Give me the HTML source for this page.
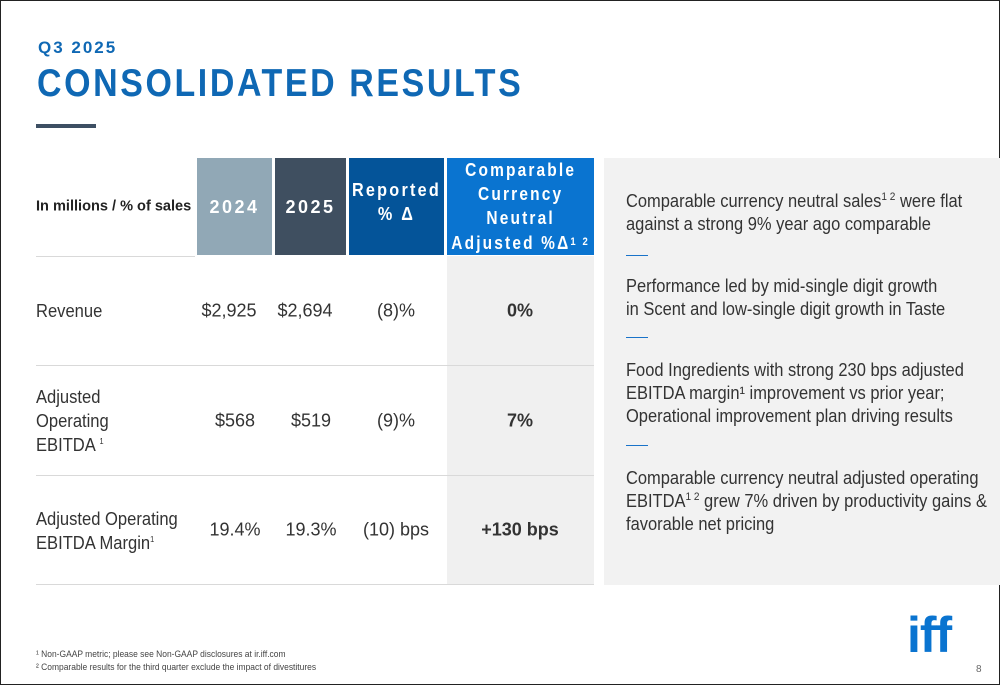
<!DOCTYPE html>
<html><head><meta charset="utf-8">
<style>
*{margin:0;padding:0;box-sizing:border-box}
body{width:1000px;height:685px;overflow:hidden;background:#fff;font-family:"Liberation Sans",Arial,sans-serif;position:relative}
.frame{position:absolute;left:0;top:0;width:1000px;height:685px;border:1px solid #222}
.abs{position:absolute}
sup{line-height:0}
.hc{position:absolute;top:158px;height:97px;color:#fff;font-weight:bold;font-size:18px;letter-spacing:2.5px;display:flex;align-items:center;justify-content:center;text-align:center;line-height:24px;overflow:hidden}
.cell{position:absolute;font-size:18px;color:#333;text-align:center;transform:translate(-50%,-50%);white-space:nowrap}
.lbl{position:absolute;left:36px;font-size:18px;color:#333;line-height:24px;white-space:nowrap;transform:scaleX(0.92);transform-origin:left}
.rl{position:absolute;left:36px;width:558px;height:1px;background:#d9d9d9}
.rp{position:absolute;left:626px;font-size:18px;color:#333;line-height:23px;white-space:nowrap;transform:scaleX(0.915);transform-origin:left}
.dash{position:absolute;left:626px;width:22px;height:1px;background:#1a73c9}
</style></head><body>
<div class="frame"></div>
<div class="abs" style="left:38px;top:38px;font-size:17px;font-weight:bold;color:#0f68b4;letter-spacing:2px">Q3 2025</div>
<div class="abs" style="left:37px;top:62px;font-size:39px;font-weight:bold;color:#0f68b4;letter-spacing:3px;white-space:nowrap;transform:scaleX(0.87);transform-origin:left">CONSOLIDATED RESULTS</div>
<div class="abs" style="left:36px;top:124px;width:60px;height:4px;background:#3d4f63"></div>

<div class="abs" style="left:447px;top:256px;width:147px;height:329px;background:#f0f0f0"></div>
<div class="abs" style="left:36px;top:206px;font-size:15px;font-weight:bold;color:#222;transform:translateY(-50%) scaleX(0.97);transform-origin:left;white-space:nowrap">In millions / % of sales</div>
<div class="hc" style="left:197px;width:75px;background:#91a8b6">2024</div>
<div class="hc" style="left:275px;width:71px;background:#3f4f60">2025</div>
<div class="hc" style="left:349px;width:95px;background:#045499;padding-bottom:10px"><span style="display:inline-block;transform:scaleX(0.9);white-space:nowrap">Reported<br>% Δ</span></div>
<div class="hc" style="left:447px;width:147px;background:#0a74d0;letter-spacing:2.5px"><span style="display:inline-block;transform:scaleX(0.86);white-space:nowrap">Comparable<br>Currency<br>Neutral<br>Adjusted %Δ<span style="font-size:11px;vertical-align:4px">1 2</span></span></div>

<div class="rl" style="top:256px;width:159px"></div>
<div class="rl" style="top:365px"></div>
<div class="rl" style="top:475px"></div>
<div class="rl" style="top:584px"></div>

<div class="lbl" style="top:299px">Revenue</div>
<div class="cell" style="left:229px;top:311px">$2,925</div>
<div class="cell" style="left:305px;top:311px">$2,694</div>
<div class="cell" style="left:396px;top:311px">(8)%</div>
<div class="cell" style="left:520px;top:311px;font-weight:bold">0%</div>

<div class="lbl" style="top:385px">Adjusted<br>Operating<br>EBITDA <sup style="font-size:8px">1</sup></div>
<div class="cell" style="left:235px;top:421px">$568</div>
<div class="cell" style="left:311px;top:421px">$519</div>
<div class="cell" style="left:396px;top:421px">(9)%</div>
<div class="cell" style="left:520px;top:421px;font-weight:bold">7%</div>

<div class="lbl" style="top:507px">Adjusted Operating<br>EBITDA Margin<sup style="font-size:8px">1</sup></div>
<div class="cell" style="left:235px;top:530px">19.4%</div>
<div class="cell" style="left:311px;top:530px">19.3%</div>
<div class="cell" style="left:396px;top:530px">(10) bps</div>
<div class="cell" style="left:520px;top:530px;font-weight:bold">+130 bps</div>

<div class="abs" style="left:604px;top:158px;width:396px;height:427px;background:#f2f2f2"></div>
<div class="rp" style="top:190px">Comparable currency neutral sales<sup style="font-size:11px">1 2</sup> were flat<br>against a strong 9% year ago comparable</div>
<div class="dash" style="top:255px"></div>
<div class="rp" style="top:275px">Performance led by mid-single digit growth<br>in Scent and low-single digit growth in Taste</div>
<div class="dash" style="top:337px"></div>
<div class="rp" style="top:359px">Food Ingredients with strong 230 bps adjusted<br>EBITDA margin¹ improvement vs prior year;<br>Operational improvement plan driving results</div>
<div class="dash" style="top:445px"></div>
<div class="rp" style="top:467px">Comparable currency neutral adjusted operating<br>EBITDA<sup style="font-size:11px">1 2</sup> grew 7% driven by productivity gains &amp;<br>favorable net pricing</div>

<div class="abs" style="left:36px;top:648px;font-size:9.5px;color:#444;line-height:13px;white-space:nowrap;transform:scaleX(0.89);transform-origin:left">¹ Non-GAAP metric; please see Non-GAAP disclosures at ir.iff.com<br>² Comparable results for the third quarter exclude the impact of divestitures</div>
<div class="abs" style="left:907px;top:609px;font-size:50px;font-weight:bold;color:#0a74d0;letter-spacing:-1px;line-height:52px">iff</div>
<div class="abs" style="left:976px;top:664px;font-size:10px;color:#666">8</div>
</body></html>
